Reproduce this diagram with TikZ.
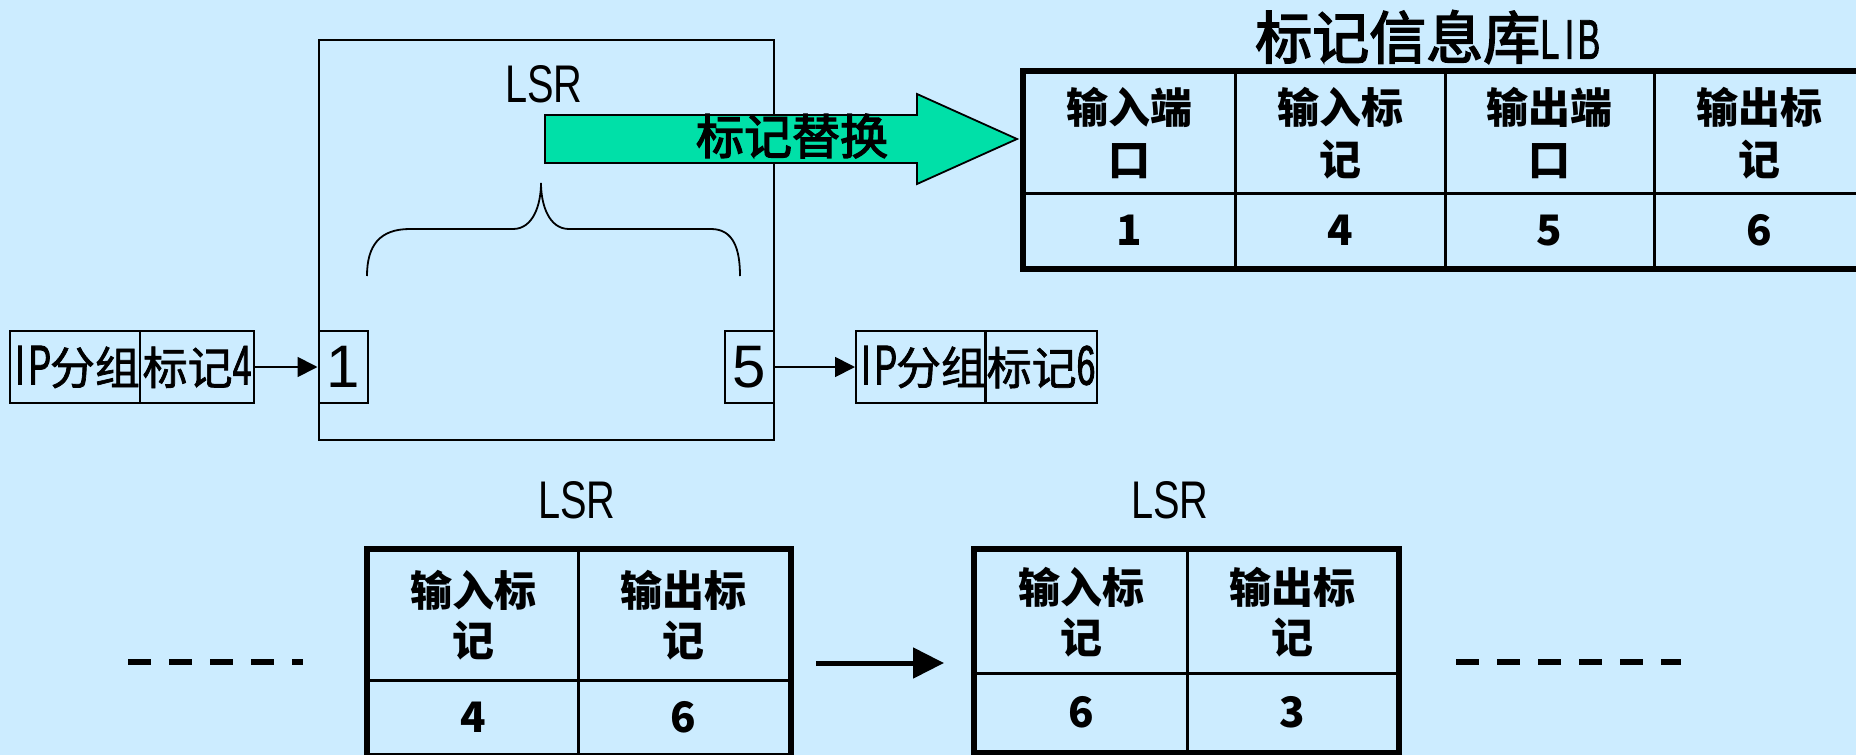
\documentclass[tikz,border=0pt]{standalone}
\usepackage{fontspec}
\setmainfont{Liberation Sans}
\newfontfamily\cjk{Noto Sans CJK SC}
\newfontfamily\cjkm{Noto Sans CJK SC}[FakeBold=1.5]
\newfontfamily\cjkt{Noto Sans CJK SC}[FakeBold=2.8]
\newfontfamily\narrowf{Liberation Sans}[FakeStretch=0.75]
\newfontfamily\narrowerf{Liberation Sans}[FakeStretch=0.6, FakeBold=1.5]
\usetikzlibrary{arrows.meta}
\definecolor{bgblue}{HTML}{CCECFF}
\definecolor{arrowgreen}{HTML}{00E0A8}
\newcommand{\hw}[2][20pt]{\makebox[#1][c]{#2}}
\newcommand{\pktlat}{\narrowerf\fontsize{56}{56}\selectfont}
\begin{document}
\begin{tikzpicture}[x=1pt,y=-1pt,
  thinbox/.style={draw=black, line width=2pt, inner sep=0pt, anchor=north west},
  pkt/.style={thinbox, minimum height=72pt, font=\cjkm\fontsize{45}{45}\selectfont},
  port/.style={thinbox, minimum height=72pt, font=\fontsize{60}{60}\selectfont},
  lsrlabel/.style={inner sep=0pt, font=\narrowf\fontsize{53}{53}\selectfont},
  libcell/.style={draw=black, line width=2.5pt, inner sep=0pt, anchor=north west, align=center,
    font=\cjk\bfseries\fontsize{42}{52}\selectfont},
  lsrcell/.style={draw=black, line width=2.5pt, inner sep=0pt, anchor=north west, align=center,
    font=\cjk\bfseries\fontsize{42}{50}\selectfont},
  outer/.style={draw=black, line width=6pt},
  thinarrow/.style={draw=black, line width=1.8pt, -{Triangle[length=20pt,width=20pt]}},
  bigarrow/.style={draw=black, line width=5pt, -{Triangle[length=31pt,width=30pt]}},
  dashline/.style={draw=black, line width=6pt, dash pattern=on 23pt off 18pt}
]
\fill[bgblue] (0,0) rectangle (1856,755);
\useasboundingbox (0,0) rectangle (1856,755);

% ---------- top LSR ----------
\node[thinbox, minimum width=455.5pt, minimum height=400pt] (lsrbox) at (317.5,38.7) {};
\node[lsrlabel] (lsr1) at (544,84) {LSR};

% brace
\draw[line width=1.8pt] (367,276) .. controls (367,245) and (380,229) .. (410,229)
  -- (513,229) .. controls (533,229) and (541,205) .. (541,183)
  .. controls (541,205) and (549,229) .. (569,229)
  -- (711,229) .. controls (734,229) and (740,250) .. (740,276);

% ports
\node[port, minimum width=49.5pt] (p1) at (317.5,330) {1};
\node[port, minimum width=48.5pt] (p5) at (724,330) {5};

% packets
\node[pkt, minimum width=130pt] (ip1) at (9,330) {{\pktlat\hw{I}\hw{P}}分组};
\node[pkt, minimum width=114pt] (lb1) at (139,330) {标记{\pktlat 4}};
\node[pkt, minimum width=129pt] (ip2) at (855,330) {{\pktlat\hw{I}\hw{P}}分组};
\node[pkt, minimum width=112pt] (lb2) at (984,330) {标记{\pktlat 6}};
\draw[thinarrow] (lb1.east) -- (p1.west);
\draw[thinarrow] (p5.east) -- (ip2.west);

% green block arrow
\filldraw[fill=arrowgreen, draw=black, line width=1.8pt, line join=miter]
  (545,115) -- (917,115) -- (917,94) -- (1017,139) -- (917,184) -- (917,163) -- (545,163) -- cycle;
\node[inner sep=0pt, font=\cjkt\fontsize{48}{48}\selectfont] (swap) at (792,136) {标记替换};

% ---------- LIB ----------
\node[inner sep=0pt, font=\cjkt\fontsize{57}{57}\selectfont] (libtitle) at (1427,37)
  {标记信息库{\narrowerf\fontsize{56}{56}\selectfont\hw[19.5pt]{L}\hw[19.5pt]{I}\hw[19.5pt]{B}}};
\node[libcell, minimum width=211pt, minimum height=121pt] (h1) at (1023,71) {输入端\\口};
\node[libcell, minimum width=210pt, minimum height=121pt] (h2) at (1234,71) {输入标\\记};
\node[libcell, minimum width=209pt, minimum height=121pt] (h3) at (1444,71) {输出端\\口};
\node[libcell, minimum width=210pt, minimum height=121pt] (h4) at (1653,71) {输出标\\记};
\node[libcell, minimum width=211pt, minimum height=74pt] (n1) at (1023,192) {1};
\node[libcell, minimum width=210pt, minimum height=74pt] (n2) at (1234,192) {4};
\node[libcell, minimum width=209pt, minimum height=74pt] (n3) at (1444,192) {5};
\node[libcell, minimum width=210pt, minimum height=74pt] (n4) at (1653,192) {6};
\draw[outer] (h1.north west) rectangle (n4.south east);

% ---------- bottom chain ----------
\node[lsrlabel] (lsr2) at (577,500) {LSR};
\node[lsrlabel] (lsr3) at (1170,500) {LSR};

\node[lsrcell, minimum width=210pt, minimum height=130pt] (a1) at (367,549) {输入标\\记};
\node[lsrcell, minimum width=211pt, minimum height=130pt] (a2) at (577,549) {输出标\\记};
\node[lsrcell, minimum width=210pt, minimum height=74pt] (a3) at (367,679) {4};
\node[lsrcell, minimum width=211pt, minimum height=74pt] (a4) at (577,679) {6};
\draw[outer] (a1.north west) rectangle (a4.south east);

\node[lsrcell, minimum width=212pt, minimum height=123pt] (b1) at (974,549) {输入标\\记};
\node[lsrcell, minimum width=210pt, minimum height=123pt] (b2) at (1186,549) {输出标\\记};
\node[lsrcell, minimum width=212pt, minimum height=78pt] (b3) at (974,672) {6};
\node[lsrcell, minimum width=210pt, minimum height=78pt] (b4) at (1186,672) {3};
\draw[outer] (b1.north west) rectangle (b4.south east);

\coordinate (m1) at (816,663);
\coordinate (m2) at (944,663);
\draw[bigarrow] (m1) -- (m2);

\coordinate (dl1) at (128,662);
\coordinate (dl2) at (303,662);
\draw[dashline] (dl1) -- (dl2);
\coordinate (dr1) at (1456,662);
\coordinate (dr2) at (1681,662);
\draw[dashline] (dr1) -- (dr2);
\end{tikzpicture}
\end{document}
